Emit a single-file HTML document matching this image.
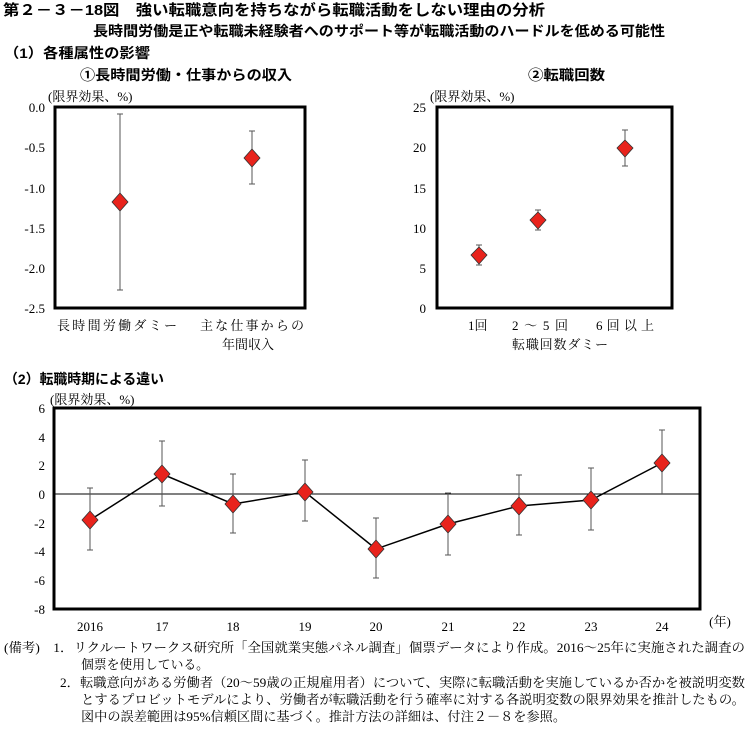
<!DOCTYPE html>
<html><head><meta charset="utf-8"><style>
body{margin:0;background:#fff;width:751px;height:725px;overflow:hidden;font-family:"Liberation Serif","Noto Serif CJK SC","Noto Sans CJK JP",serif;}
svg text{font-family:"Liberation Serif","Noto Serif CJK SC",serif;fill:#000}
.g{font-family:"Liberation Sans","Noto Sans CJK JP",sans-serif !important;font-weight:bold}
</style></head><body>
<svg width="751" height="725" xmlns="http://www.w3.org/2000/svg">
<text class="g" x="3" y="15" font-size="15" textLength="542" lengthAdjust="spacingAndGlyphs">第２－３－18図　強い転職意向を持ちながら転職活動をしない理由の分析</text>
<text class="g" x="93" y="36" font-size="14" textLength="572" lengthAdjust="spacingAndGlyphs">長時間労働是正や転職未経験者へのサポート等が転職活動のハードルを低める可能性</text>
<text class="g" x="4" y="58" font-size="14" textLength="146" lengthAdjust="spacingAndGlyphs">（1）各種属性の影響</text>
<text class="g" x="80" y="80" font-size="14" textLength="212" lengthAdjust="spacingAndGlyphs">①長時間労働・仕事からの収入</text>
<text class="g" x="528" y="80" font-size="14" textLength="77" lengthAdjust="spacingAndGlyphs">②転職回数</text>

<!-- chart 1 -->
<text x="48" y="101" font-size="13">(限界効果、%)</text>
<rect x="55" y="107" width="250" height="201" fill="none" stroke="#000" stroke-width="3"/>
<g font-size="13" text-anchor="end">
<text x="45" y="112">0.0</text><text x="45" y="152">-0.5</text><text x="45" y="193">-1.0</text><text x="45" y="233">-1.5</text><text x="45" y="273">-2.0</text><text x="45" y="313">-2.5</text></g>
<g stroke="#555" stroke-width="1">
<line x1="120" y1="114" x2="120" y2="290"/><line x1="117" y1="114" x2="123" y2="114"/><line x1="117" y1="290" x2="123" y2="290"/>
<line x1="252" y1="131" x2="252" y2="184"/><line x1="249" y1="131" x2="255" y2="131"/><line x1="249" y1="184" x2="255" y2="184"/></g>
<g fill="#e8231c" stroke="#333" stroke-width="0.8">
<polygon points="120,193 128,202 120,211 112,202"/><polygon points="252,149 260,158 252,167 244,158"/></g>
<text x="57" y="330" font-size="13" textLength="120">長時間労働ダミー</text>
<text x="200" y="330" font-size="13" textLength="104">主な仕事からの</text>
<text x="222" y="349" font-size="13">年間収入</text>

<!-- chart 2 -->
<text x="430" y="101" font-size="13">(限界効果、%)</text>
<rect x="437" y="107" width="235" height="201" fill="none" stroke="#000" stroke-width="3"/>
<g font-size="13" text-anchor="end">
<text x="426" y="112">25</text><text x="426" y="152">20</text><text x="426" y="193">15</text><text x="426" y="233">10</text><text x="426" y="273">5</text><text x="426" y="313">0</text></g>
<g stroke="#555" stroke-width="1">
<line x1="479" y1="245" x2="479" y2="265"/><line x1="476" y1="245" x2="482" y2="245"/><line x1="476" y1="265" x2="482" y2="265"/>
<line x1="538" y1="210" x2="538" y2="230"/><line x1="535" y1="210" x2="541" y2="210"/><line x1="535" y1="230" x2="541" y2="230"/>
<line x1="625" y1="130" x2="625" y2="166"/><line x1="622" y1="130" x2="628" y2="130"/><line x1="622" y1="166" x2="628" y2="166"/></g>
<g fill="#e8231c" stroke="#333" stroke-width="0.8">
<polygon points="479,247 487,255 479,264 471,255"/><polygon points="538,212 546,220 538,229 530,220"/><polygon points="625,140 633,148 625,157 617,148"/></g>
<g font-size="13"><text x="468" y="330">1回</text><text x="512" y="330" textLength="56">2～5回</text><text x="596" y="330" textLength="58">6回以上</text><text x="512" y="349" textLength="96">転職回数ダミー</text></g>

<text class="g" x="4" y="384" font-size="14" textLength="160" lengthAdjust="spacingAndGlyphs">（2）転職時期による違い</text>

<!-- chart 3 -->
<text x="50" y="404" font-size="13">(限界効果、%)</text>
<rect x="54" y="408" width="646" height="201" fill="none" stroke="#000" stroke-width="3"/>
<line x1="54" y1="494" x2="700" y2="494" stroke="#000" stroke-width="1"/>
<g font-size="13" text-anchor="end">
<text x="45" y="413">6</text><text x="45" y="442">4</text><text x="45" y="470">2</text><text x="45" y="499">0</text><text x="45" y="528">-2</text><text x="45" y="556">-4</text><text x="45" y="585">-6</text><text x="45" y="614">-8</text></g>
<g stroke="#555" stroke-width="1">
<path d="M90 488V550M87 488H93M87 550H93
M162 441V506M159 441H165M159 506H165
M233 474V533M230 474H236M230 533H236
M305 460V521M302 460H308M302 521H308
M376 518V578M373 518H379M373 578H379
M448 493V555M445 493H451M445 555H451
M519 475V535M516 475H522M516 535H522
M591 468V530M588 468H594M588 530H594
M662 430V494M659 430H665"/></g>
<polyline points="90,520 162,474 233,504 305,492 376,549 448,524 519,506 591,500 662,463" fill="none" stroke="#000" stroke-width="1.5"/>
<g fill="#e8231c" stroke="#333" stroke-width="0.8">
<polygon points="90,511 98,520 90,529 82,520"/><polygon points="162,465 170,474 162,483 154,474"/><polygon points="233,495 241,504 233,513 225,504"/><polygon points="305,483 313,492 305,501 297,492"/><polygon points="376,540 384,549 376,558 368,549"/><polygon points="448,515 456,524 448,533 440,524"/><polygon points="519,497 527,506 519,515 511,506"/><polygon points="591,491 599,500 591,509 583,500"/><polygon points="662,454 670,463 662,472 654,463"/></g>
<g font-size="13" text-anchor="middle">
<text x="90" y="631">2016</text><text x="162" y="631">17</text><text x="233" y="631">18</text><text x="305" y="631">19</text><text x="376" y="631">20</text><text x="448" y="631">21</text><text x="519" y="631">22</text><text x="591" y="631">23</text><text x="662" y="631">24</text><text x="720" y="626">(年)</text></g>

<g font-size="13" lengthAdjust="spacingAndGlyphs">
<text x="4" y="652" textLength="741" lengthAdjust="spacingAndGlyphs">(備考)　1．リクルートワークス研究所「全国就業実態パネル調査」個票データにより作成。2016～25年に実施された調査の</text>
<text x="81" y="669" textLength="128" lengthAdjust="spacingAndGlyphs">個票を使用している。</text>
<text x="60" y="687" textLength="685" lengthAdjust="spacingAndGlyphs">2．転職意向がある労働者（20～59歳の正規雇用者）について、実際に転職活動を実施しているか否かを被説明変数</text>
<text x="81" y="704" textLength="664" lengthAdjust="spacingAndGlyphs">とするプロビットモデルにより、労働者が転職活動を行う確率に対する各説明変数の限界効果を推計したもの。</text>
<text x="81" y="721" textLength="485" lengthAdjust="spacingAndGlyphs">図中の誤差範囲は95%信頼区間に基づく。推計方法の詳細は、付注２－８を参照。</text>
</g>
</svg>
</body></html>
